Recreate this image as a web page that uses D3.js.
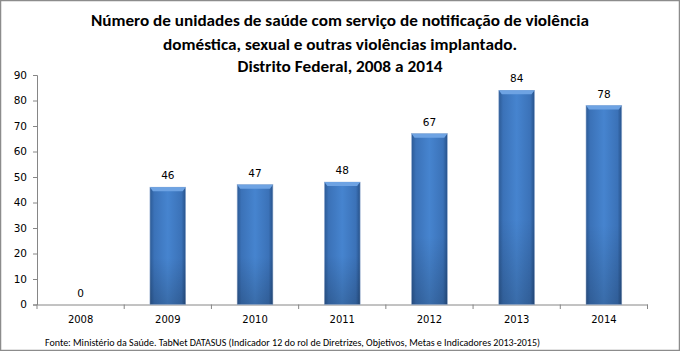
<!DOCTYPE html>
<html><head><meta charset="utf-8">
<script src="https://cdn.jsdelivr.net/npm/d3@7"></script>
<style>body{margin:0;background:#fff}svg{display:block}</style>
</head><body>
<script>
const categories = ["2008","2009","2010","2011","2012","2013","2014"];
const values = [0,46,47,48,67,84,78];
const yTicks = [0,10,20,30,40,50,60,70,80,90];
const titleLines = ["Número de unidades de saúde com serviço de notificação de violência","doméstica, sexual e outras violências implantado.","Distrito Federal, 2008 a 2014"];
const source = "Fonte: Ministério da Saúde. TabNet DATASUS (Indicador 12  do rol de Diretrizes, Objetivos, Metas e Indicadores 2013-2015)";

const W=680,H=351;
const svg=d3.select("body").append("svg").attr("width",W).attr("height",H);
svg.append("rect").attr("x",0.5).attr("y",0.5).attr("width",W-1).attr("height",H-1).attr("fill","#fff").attr("stroke","#8c8c8c").attr("stroke-width",1.5);

const defs=svg.append("defs");
const g1=defs.append("linearGradient").attr("id","bar").attr("x1",0).attr("x2",1).attr("y1",0).attr("y2",0);
[[0,"#2c5a95"],[0.12,"#3b72b8"],[0.5,"#4684cf"],[0.88,"#3b72b8"],[1,"#27528a"]].forEach(([o,c])=>g1.append("stop").attr("offset",o).attr("stop-color",c));
const g2=defs.append("linearGradient").attr("id","shade").attr("x1",0).attr("x2",0).attr("y1",0).attr("y2",1);
[[0,"#ffffff",0],[0.6,"#000000",0],[1,"#000000",0.18]].forEach(([o,c,a])=>g2.append("stop").attr("offset",o).attr("stop-color",c).attr("stop-opacity",a));

const fontT="Carlito, Calibri, 'Open Sans', sans-serif";
const fontA="Tahoma, 'DejaVu Sans', Verdana, sans-serif";

const tl=[{y:26,len:498},{y:50,len:354},{y:72,len:205}];
svg.selectAll("text.title").data(titleLines).join("text").attr("class","title")
 .attr("x",340).attr("y",(d,i)=>tl[i].y).attr("text-anchor","middle")
 .attr("font-family",fontT).attr("font-weight","bold").attr("font-size",16).attr("fill","#000")
 .attr("textLength",(d,i)=>tl[i].len).attr("lengthAdjust","spacingAndGlyphs").text(d=>d);

const x=d3.scaleBand().domain(categories).range([37,647.5]).paddingInner(0.59).paddingOuter(0.295);
const y=d3.scaleLinear().domain([0,90]).range([304.5,75]);

const yAxis=d3.axisLeft(y).tickValues(yTicks).tickSize(4).tickPadding(6);
const ga=svg.append("g").attr("transform","translate(37,0)").call(yAxis);
ga.select(".domain").attr("stroke","#868686");
ga.selectAll(".tick line").attr("stroke","#868686");
ga.selectAll("text").attr("font-family",fontA).attr("font-size",10.5).attr("fill","#000");

const xb=d3.scaleBand().domain(categories).range([37,647.5]);
const xAxis=d3.axisBottom(xb).tickSize(0).tickPadding(11);
const gx=svg.append("g").attr("transform","translate(0,304.5)").call(xAxis);
gx.select(".domain").attr("stroke","#868686");
gx.selectAll("text").attr("font-family",fontA).attr("font-size",10).attr("fill","#000");
// tick marks between categories
const bounds=d3.range(categories.length+1).map(i=>37+i*xb.step());
svg.append("g").selectAll("line").data(bounds).join("line")
 .attr("x1",d=>d).attr("x2",d=>d).attr("y1",304.5).attr("y2",309).attr("stroke","#868686");

const bars=svg.append("g");
const data=categories.map((c,i)=>({c,v:values[i]}));
bars.selectAll("rect.b").data(data.filter(d=>d.v>0)).join("rect").attr("class","b")
 .attr("x",d=>x(d.c)).attr("y",d=>y(d.v)).attr("width",x.bandwidth()).attr("height",d=>y(0)-y(d.v))
 .attr("fill","url(#bar)").attr("stroke","#9bb3d6").attr("stroke-width",0.6);
bars.selectAll("rect.s").data(data.filter(d=>d.v>0)).join("rect").attr("class","s")
 .attr("x",d=>x(d.c)).attr("y",d=>y(d.v)).attr("width",x.bandwidth()).attr("height",d=>y(0)-y(d.v))
 .attr("fill","url(#shade)");
// top bevel
bars.selectAll("path.bev").data(data.filter(d=>d.v>0)).join("path").attr("class","bev")
 .attr("d",d=>{const x0=x(d.c),x1=x0+x.bandwidth(),t=y(d.v);return `M${x0},${t}L${x1},${t}L${x1-3},${t+4}L${x0+3},${t+4}Z`;})
 .attr("fill","#6ea3e3");

svg.append("g").selectAll("text").data(data).join("text")
 .attr("x",d=>x(d.c)+x.bandwidth()/2).attr("y",d=>y(d.v)-8).attr("text-anchor","middle")
 .attr("font-family",fontA).attr("font-size",10.5).attr("fill","#000").text(d=>d.v);

svg.append("text").attr("x",45).attr("y",346).attr("font-family",fontT).attr("font-size",10)
 .attr("textLength",495).attr("lengthAdjust","spacingAndGlyphs").attr("fill","#000").text(source);
</script>
</body></html>
